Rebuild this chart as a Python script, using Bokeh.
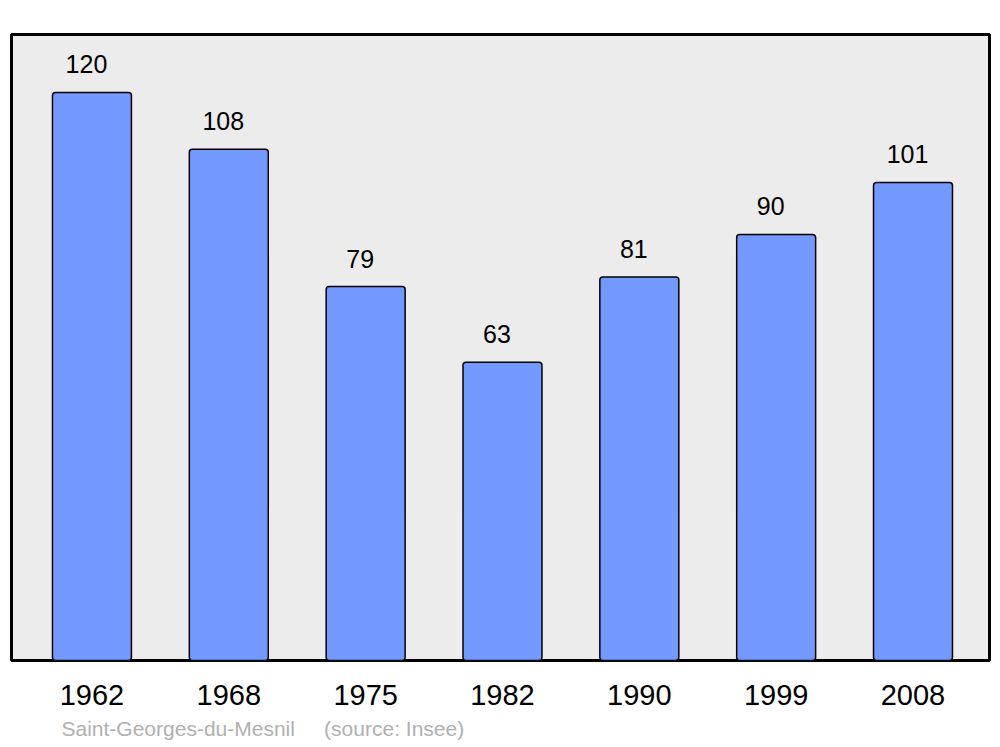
from bokeh.plotting import figure
from bokeh.models import ColumnDataSource, Range1d, FixedTicker, Title
from bokeh.core.properties import value
from bokeh.embed import file_html
from bokeh.resources import INLINE

years = ["1962", "1968", "1975", "1982", "1990", "1999", "2008"]
population = [120, 108, 79, 63, 81, 90, 101]
place = "Saint-Georges-du-Mesnil"
source_note = "(source: Insee)"

xs = list(range(len(years)))
src = ColumnDataSource(dict(x=xs, top=population, label=[str(v) for v in population]))

FONT = "Liberation Sans"

p = figure(frame_width=978, frame_height=626, output_backend="svg", toolbar_location=None,
           x_range=Range1d(-0.588, 6.559), y_range=Range1d(0, 132.25),
           min_border_left=11, min_border_right=3, min_border_top=34, min_border_bottom=4)

p.background_fill_color = "#ececec"
p.border_fill_color = "white"
p.outline_line_color = "black"
p.outline_line_width = 3
p.grid.visible = False
p.yaxis.visible = False

p.vbar(x="x", top="top", bottom=0, width=0.577, source=src,
       fill_color="#7399ff", line_color="black", line_width=1.5, border_radius=3)

p.text(x="x", y="top", text="label", source=src, text_align="center",
       text_baseline="alphabetic", y_offset=-28, x_offset=-5.5, text_font=value(FONT),
       text_font_size="25px", text_color="black")

xa = p.xaxis[0]
xa.ticker = FixedTicker(ticks=xs)
xa.major_label_overrides = {i: y for i, y in enumerate(years)}
xa.axis_line_color = None
xa.major_tick_line_color = None
xa.minor_tick_line_color = None
xa.major_tick_out = 0
xa.major_label_standoff = 24
xa.major_label_text_font = FONT
xa.major_label_text_font_size = "29px"
xa.major_label_text_color = "black"

sp = "\u00a0" * 5
p.add_layout(Title(text=place + sp + source_note, align="left", offset=50, standoff=14,
                   text_font=FONT, text_font_size="21px", text_color="#b0b0b0",
                   text_font_style="normal"), "below")

open("out.html", "w").write(file_html(p, INLINE))
